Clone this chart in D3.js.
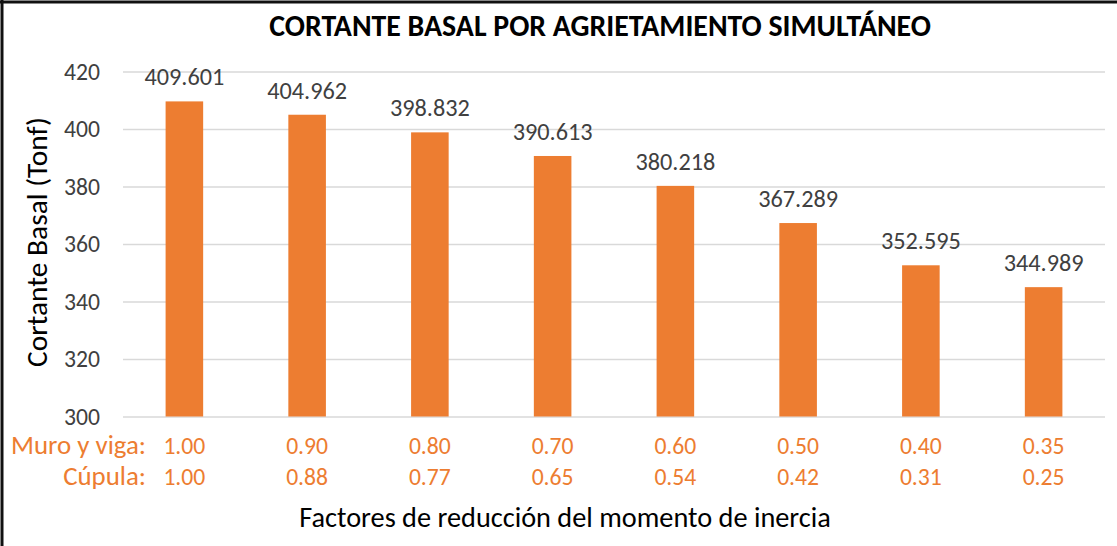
<!DOCTYPE html>
<html>
<head>
<meta charset="utf-8">
<script src="https://cdn.jsdelivr.net/npm/d3@7/dist/d3.min.js"></script>
<style>
  html, body { margin: 0; padding: 0; background: #fff; }
  svg { display: block; }
  text { font-family: Carlito, Lato, "Open Sans", sans-serif; }
</style>
</head>
<body>
<svg id="chart" width="1117" height="546"></svg>
<script>
// Base shear for each simultaneous-cracking case
const cases = ["c1", "c2", "c3", "c4", "c5", "c6", "c7", "c8"];
const baseShear = [409.601, 404.962, 398.832, 390.613, 380.218, 367.289, 352.595, 344.989];
const wallBeamFactors = ["1.00", "0.90", "0.80", "0.70", "0.60", "0.50", "0.40", "0.35"];
const domeFactors = ["1.00", "0.88", "0.77", "0.65", "0.54", "0.42", "0.31", "0.25"];
const yTicks = [300, 320, 340, 360, 380, 400, 420];
const rowLabels = ["Muro y viga:", "Cúpula:"];

const titleText = "CORTANTE BASAL POR AGRIETAMIENTO SIMULTÁNEO";
const yTitle = "Cortante Basal (Tonf)";
const xTitle = "Factores de reducción del momento de inercia";

const svg = d3.select("#chart");
const W = 1117, H = 546;
const plot = { left: 123, right: 1105, top: 71.5, bottom: 416.5 };

const barColor = "#ED7D31";
const labelOrange = "#ED7D31";
const gridColor = "#D9D9D9";
const textDark = "#404040";

svg.append("rect").attr("width", W).attr("height", H).attr("fill", "#fff");

// frame edges
svg.append("line").attr("x1", 0).attr("x2", W).attr("y1", 2).attr("y2", 2)
  .attr("stroke", "#111").attr("stroke-width", 3);
svg.append("line").attr("x1", 2).attr("x2", 2).attr("y1", 0).attr("y2", H)
  .attr("stroke", "#111").attr("stroke-width", 3);

const x = d3.scaleBand().domain(cases).range([plot.left, plot.right]).paddingInner(0.694).paddingOuter(0.347);
const y = d3.scaleLinear().domain([300, 420]).range([plot.bottom, plot.top]);

// font size that makes a sample string span the given width
const probe = svg.append("text").attr("font-size", 20).attr("visibility", "hidden");
function sizeFor(sample, target, weight) {
  probe.attr("font-weight", weight || "normal").text(sample);
  return 20 * target / probe.node().getComputedTextLength();
}
const fsTick = sizeFor("420", 36);
const fsValue = sizeFor("409.601", 80);
const fsRowLab = sizeFor("Muro y viga:", 135);
const fsRowVal = sizeFor("1.00", 42);
const fsTitle = sizeFor(titleText, 662, "bold");
const fsXTitle = sizeFor(xTitle, 532);
const fsYTitle = sizeFor(yTitle, 250);
probe.remove();

// horizontal gridlines and tick labels
const yAxis = d3.axisLeft(y).tickValues(yTicks).tickSize(-(plot.right - plot.left)).tickPadding(23);
const gy = svg.append("g").attr("transform", `translate(${plot.left},0)`).call(yAxis);
gy.select(".domain").remove();
gy.selectAll(".tick line").attr("stroke", gridColor).attr("stroke-width", 1.3);
gy.selectAll(".tick text").attr("font-size", fsTick).attr("fill", textDark)
  .style("font-family", "Carlito, Lato, 'Open Sans', sans-serif");

// bars
svg.append("g").selectAll("rect").data(baseShear).join("rect")
  .attr("x", (d, i) => x(cases[i]))
  .attr("width", x.bandwidth())
  .attr("y", d => y(d))
  .attr("height", d => y(300) - y(d))
  .attr("fill", barColor);

// value labels
svg.append("g").selectAll("text").data(baseShear).join("text")
  .attr("x", (d, i) => x(cases[i]) + x.bandwidth() / 2)
  .attr("y", d => y(d) - 16)
  .attr("text-anchor", "middle")
  .attr("font-size", fsValue)
  .attr("fill", textDark)
  .text(d => d3.format(".3f")(d));

// category rows: wall/beam and dome reduction factors
const rows = [wallBeamFactors, domeFactors];
const rowY = [454, 485];
rows.forEach((vals, r) => {
  svg.append("text").attr("x", 146).attr("y", rowY[r]).attr("text-anchor", "end")
    .attr("font-size", fsRowLab).attr("fill", labelOrange).text(rowLabels[r]);
  svg.append("g").selectAll("text").data(vals).join("text")
    .attr("x", (d, i) => x(cases[i]) + x.bandwidth() / 2)
    .attr("y", rowY[r])
    .attr("text-anchor", "middle")
    .attr("font-size", fsRowVal)
    .attr("fill", labelOrange)
    .text(d => d);
});

// titles
svg.append("text").attr("x", 600).attr("y", 36).attr("text-anchor", "middle")
  .attr("font-size", fsTitle).attr("font-weight", "bold").attr("fill", "#000").text(titleText);

svg.append("text").attr("x", 565).attr("y", 527).attr("text-anchor", "middle")
  .attr("font-size", fsXTitle).attr("fill", "#000").text(xTitle);

svg.append("text").attr("transform", "translate(47,242) rotate(-90)")
  .attr("text-anchor", "middle").attr("font-size", fsYTitle).attr("fill", "#000").text(yTitle);
</script>
</body>
</html>
